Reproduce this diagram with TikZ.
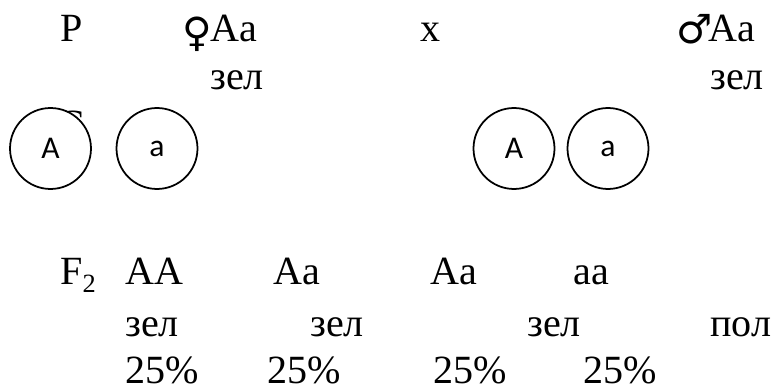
\documentclass[tikz,border=0pt]{standalone}
\usepackage{fontspec}
\setmainfont{Liberation Serif}
\newfontfamily\gamfont{Carlito}
\newfontfamily\symfont{DejaVu Sans}
\usetikzlibrary{positioning}

\begin{document}
\begin{tikzpicture}[x=0.02cm, y=-0.02cm, every node/.style={inner sep=0pt, font=\fontsize{22.8}{27}\selectfont},
  txt/.style={anchor=base west},
  sex/.style={anchor=base west, font=\symfont\fontsize{23}{26}\selectfont},
  gamete/.style={draw, circle, line width=1pt, fill=white, minimum size=1.62cm, font=\gamfont\fontsize{18}{20}\selectfont}]
\useasboundingbox (0,0) rectangle (778,391);
% parents
\node[txt] (p) at (60,42) {P};
\node[sex] (fem) at (182,47) {♀};
\node[txt] (mother) at (210,42) {Aa};
\node[txt] (cross) at (420,42) {x};
\node[sex] (male) at (676,44) {♂};
\node[txt] (father) at (708,42) {Aa};
\node[txt] (phenM) at (210,90) {зел};
\node[txt] (phenF) at (710,90) {зел};
% gametes
\node[txt] (g) at (57,138) {G};
\node[gamete] (gmA) at (50.5,148.5) {A};
\node[gamete] (gma) at (157,148.5) {a};
\node[gamete] (gfA) at (514,148.5) {A};
\node[gamete] (gfa) at (608,148.5) {a};
% offspring
\node[txt] (f2) at (60,285) {F\raisebox{-4pt}{\fontsize{15}{15}\selectfont 2}};
\node[txt] (o1) at (125,285) {AA};
\node[txt] (o2) at (273,285) {Aa};
\node[txt] (o3) at (430,285) {Aa};
\node[txt] (o4) at (573,285) {aa};
\node[txt] (c1) at (125,337) {зел};
\node[txt] (c2) at (310,337) {зел};
\node[txt] (c3) at (527,337) {зел};
\node[txt] (c4) at (710,337) {пол};
\node[txt] (r1) at (125,384) {25\%};
\node[txt] (r2) at (267,384) {25\%};
\node[txt] (r3) at (433,384) {25\%};
\node[txt] (r4) at (583,384) {25\%};
\end{tikzpicture}
\end{document}
